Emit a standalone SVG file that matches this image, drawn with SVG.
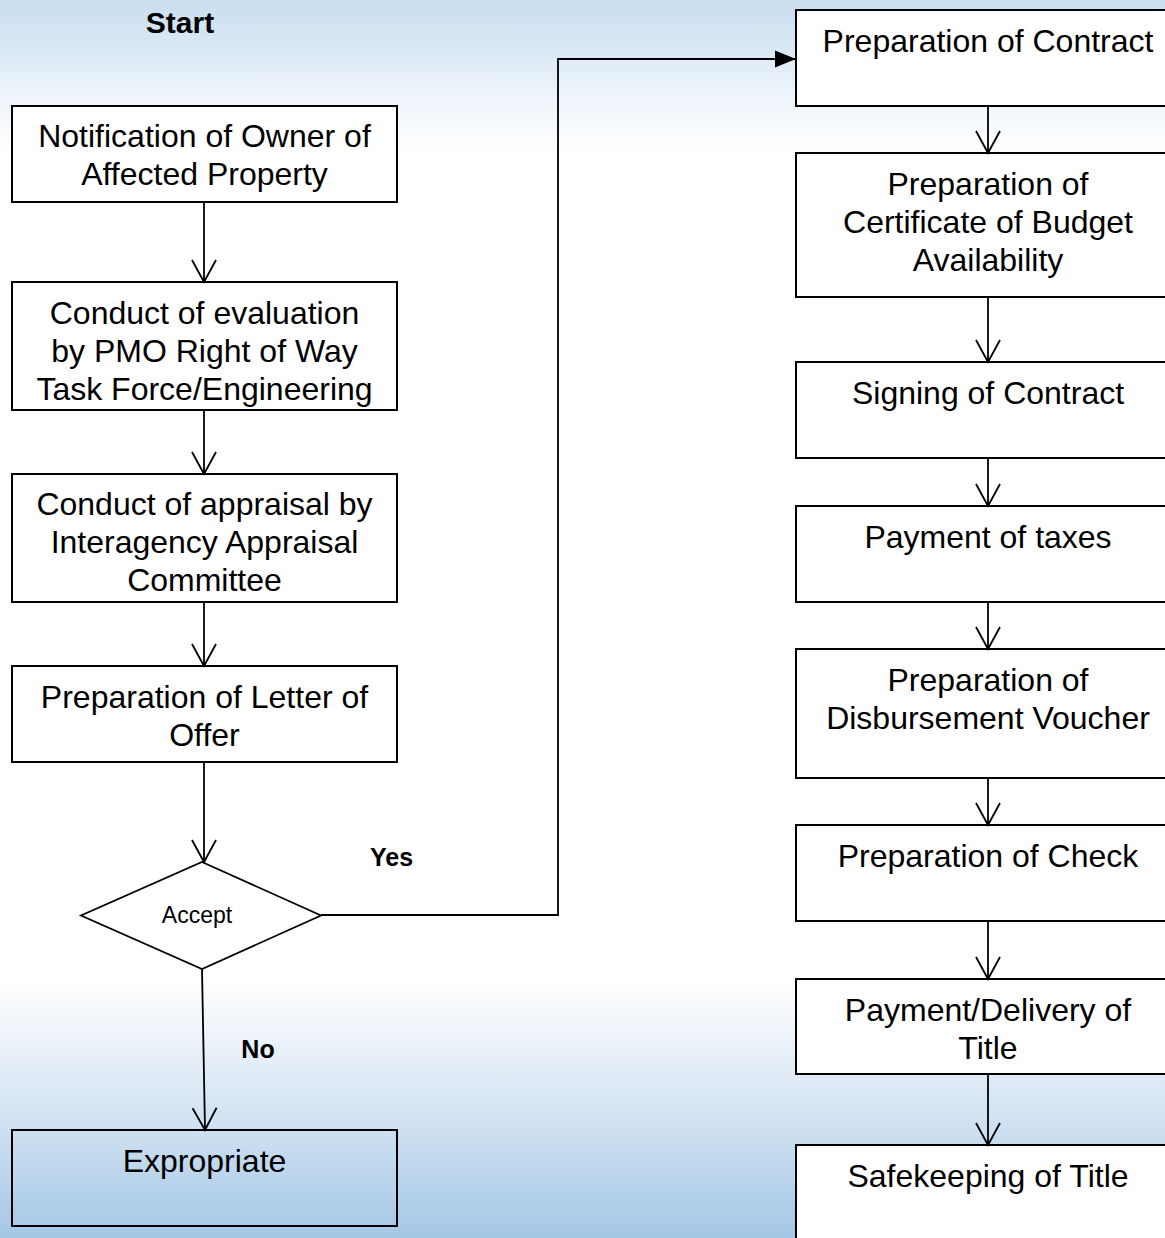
<svg xmlns="http://www.w3.org/2000/svg" width="1165" height="1238" viewBox="0 0 1165 1238">
  <defs>
    <linearGradient id="bg" x1="0" y1="0" x2="0" y2="1238" gradientUnits="userSpaceOnUse">
      <stop offset="0" stop-color="#c9deef"/>
      <stop offset="0.035" stop-color="#d8e7f4"/>
      <stop offset="0.08" stop-color="#eff5fb"/>
      <stop offset="0.125" stop-color="#ffffff"/>
      <stop offset="0.79" stop-color="#ffffff"/>
      <stop offset="0.855" stop-color="#e6eff8"/>
      <stop offset="0.92" stop-color="#cadef0"/>
      <stop offset="1" stop-color="#a4c7e6"/>
    </linearGradient>
    <marker id="open" markerUnits="userSpaceOnUse" markerWidth="30" markerHeight="30" refX="22" refY="12" orient="auto" overflow="visible">
      <path d="M0,0 L22,12 L0,24" fill="none" stroke="#000" stroke-width="1.8"/>
    </marker>
    <marker id="solid" markerUnits="userSpaceOnUse" markerWidth="30" markerHeight="30" refX="21" refY="8.5" orient="auto" overflow="visible">
      <path d="M0,0 L21,8.5 L0,17 Z" fill="#000"/>
    </marker>
  </defs>
  <style>
    .box { fill: #ffffff; stroke: #000; stroke-width: 2; }
    .clear { fill: none; stroke: #000; stroke-width: 2; }
    .t { font-family: "Liberation Sans", Arial, sans-serif; font-size: 32px; fill: #000; text-anchor: middle; }
    .lbl { font-family: "Liberation Sans", Arial, sans-serif; font-weight: bold; fill: #000; text-anchor: middle; }
    .small { font-family: "Liberation Sans", Arial, sans-serif; font-size: 23px; fill: #000; text-anchor: middle; }
    .conn { fill: none; stroke: #000; stroke-width: 1.8; }
  </style>

  <rect x="0" y="0" width="1165" height="1238" fill="url(#bg)"/>

  <text id="start" class="lbl" x="180" y="33" font-size="30">Start</text>

  <g id="n1">
    <rect class="box" x="12" y="106" width="385" height="96"/>
    <text class="t" x="204.5" y="147">Notification of Owner of</text>
    <text class="t" x="204.5" y="185">Affected Property</text>
  </g>
  <g id="n2">
    <rect class="box" x="12" y="282" width="385" height="128"/>
    <text class="t" x="204.5" y="324">Conduct of evaluation</text>
    <text class="t" x="204.5" y="362">by PMO Right of Way</text>
    <text class="t" x="204.5" y="400">Task Force/Engineering</text>
  </g>
  <g id="n3">
    <rect class="box" x="12" y="474" width="385" height="128"/>
    <text class="t" x="204.5" y="515">Conduct of appraisal by</text>
    <text class="t" x="204.5" y="553">Interagency Appraisal</text>
    <text class="t" x="204.5" y="591">Committee</text>
  </g>
  <g id="n4">
    <rect class="box" x="12" y="666" width="385" height="96"/>
    <text class="t" x="204.5" y="708">Preparation of Letter of</text>
    <text class="t" x="204.5" y="746">Offer</text>
  </g>
  <g id="accept">
    <polygon points="202,862 321,915.5 202,969 81,915.5" fill="#ffffff" stroke="#000" stroke-width="1.8"/>
    <text class="small" x="197" y="923">Accept</text>
  </g>
  <g id="expropriate">
    <rect class="clear" x="12" y="1130" width="385" height="96"/>
    <text class="t" x="204.5" y="1172">Expropriate</text>
  </g>

  <g id="r1">
    <rect class="box" x="796" y="10" width="384" height="96"/>
    <text class="t" x="988" y="52">Preparation of Contract</text>
  </g>
  <g id="r2">
    <rect class="box" x="796" y="153" width="384" height="144"/>
    <text class="t" x="988" y="195">Preparation of</text>
    <text class="t" x="988" y="233">Certificate of Budget</text>
    <text class="t" x="988" y="271">Availability</text>
  </g>
  <g id="r3">
    <rect class="box" x="796" y="362" width="384" height="96"/>
    <text class="t" x="988" y="404">Signing of Contract</text>
  </g>
  <g id="r4">
    <rect class="box" x="796" y="506" width="384" height="96"/>
    <text class="t" x="988" y="548">Payment of taxes</text>
  </g>
  <g id="r5">
    <rect class="box" x="796" y="649" width="384" height="129"/>
    <text class="t" x="988" y="691">Preparation of</text>
    <text class="t" x="988" y="729">Disbursement Voucher</text>
  </g>
  <g id="r6">
    <rect class="box" x="796" y="825" width="384" height="96"/>
    <text class="t" x="988" y="867">Preparation of Check</text>
  </g>
  <g id="r7">
    <rect class="box" x="796" y="979" width="384" height="95"/>
    <text class="t" x="988" y="1021">Payment/Delivery of</text>
    <text class="t" x="988" y="1059">Title</text>
  </g>
  <g id="r8">
    <rect class="box" x="796" y="1145" width="384" height="120"/>
    <text class="t" x="988" y="1187">Safekeeping of Title</text>
  </g>

  <g id="connectors">
    <line class="conn" x1="204" y1="202" x2="204" y2="282" marker-end="url(#open)"/>
    <line class="conn" x1="204" y1="410" x2="204" y2="474" marker-end="url(#open)"/>
    <line class="conn" x1="204" y1="602" x2="204" y2="666" marker-end="url(#open)"/>
    <line class="conn" x1="204" y1="762" x2="204" y2="862" marker-end="url(#open)"/>
    <line class="conn" x1="202" y1="969" x2="205" y2="1130" marker-end="url(#open)"/>
    <polyline class="conn" points="321,915 558,915 558,59 796,59" marker-end="url(#solid)"/>
    <line class="conn" x1="988" y1="106" x2="988" y2="153" marker-end="url(#open)"/>
    <line class="conn" x1="988" y1="297" x2="988" y2="362" marker-end="url(#open)"/>
    <line class="conn" x1="988" y1="458" x2="988" y2="506" marker-end="url(#open)"/>
    <line class="conn" x1="988" y1="602" x2="988" y2="649" marker-end="url(#open)"/>
    <line class="conn" x1="988" y1="778" x2="988" y2="825" marker-end="url(#open)"/>
    <line class="conn" x1="988" y1="921" x2="988" y2="979" marker-end="url(#open)"/>
    <line class="conn" x1="988" y1="1074" x2="988" y2="1145" marker-end="url(#open)"/>
    <text class="lbl" x="391.5" y="866" font-size="25">Yes</text>
    <text class="lbl" x="258" y="1058" font-size="25">No</text>
  </g>
</svg>
